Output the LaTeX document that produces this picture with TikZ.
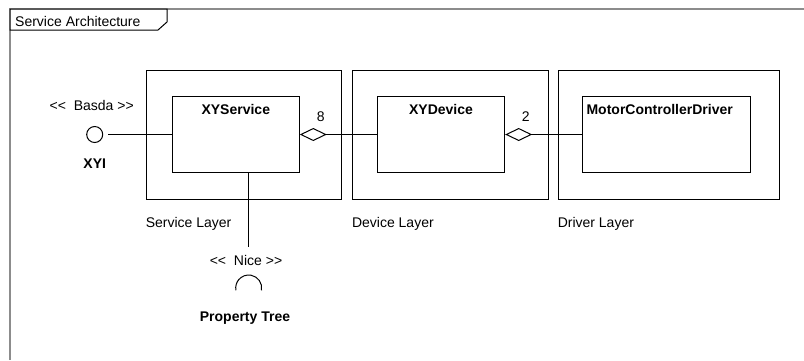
\documentclass[tikz,border=0pt]{standalone}
\usepackage{fontspec}
\setmainfont{Liberation Sans}
\usetikzlibrary{arrows.meta,positioning}

\begin{document}
\begin{tikzpicture}[
  x=1pt, y=-1pt,
  every node/.style={font=\fontsize{14pt}{17pt}\selectfont},
  frame/.style={draw=black!45, line width=1.5pt},
  tab/.style={draw=black, line width=1pt, fill=white},
  layer/.style={rectangle, draw=black, line width=1pt, minimum height=129pt, inner sep=0pt},
  cls/.style={rectangle, draw=black, line width=1pt, minimum height=76pt, inner sep=0pt},
  clsname/.style={inner sep=0pt, font=\fontsize{14pt}{17pt}\selectfont\bfseries},
  txt/.style={inner sep=0pt},
  iface/.style={circle, draw=black, line width=1pt, minimum size=16pt, inner sep=0pt},
  conn/.style={line width=1pt},
  aggr/.style={conn, {Diamond[open,length=27pt,width=13pt]}-}
]
\useasboundingbox (0,0) rectangle (804,360);

% Frame
\draw[frame] (10,360) -- (10,9) -- (804,9);
\draw[tab] (10,9) -- (167,9) -- (167,22) -- (158,30) -- (10,30) -- cycle;
\node (title) [txt, anchor=base west] at (15,26) {Service Architecture};

% Layers
\node (svclayer) [layer, minimum width=195.7pt] at (243.9,134.5) {};
\node (devlayer) [layer, minimum width=195.7pt, right=9.6pt of svclayer] {};
\node (drvlayer) [layer, minimum width=221.3pt, right=9pt of devlayer] {};
\node (svclabel) [txt, below right=17.5pt and 0pt of svclayer.south west] {Service Layer};
\node (devlabel) [txt, below right=17.5pt and 0pt of devlayer.south west] {Device Layer};
\node (drvlabel) [txt, below right=17.5pt and 0pt of drvlayer.south west] {Driver Layer};

% Classes
\node (xyservice) [cls, minimum width=127pt] at (235.8,134.5) {};
\node (xydevice) [cls, minimum width=127.4pt] at (441,134.5) {};
\node (mcdriver) [cls, minimum width=168pt] at (666.7,134.5) {};
\node (xyservicename) [clsname, below=8pt of xyservice.north] {XYService};
\node (xydevicename) [clsname, below=8pt of xydevice.north] {XYDevice};
\node (mcdrivername) [clsname, below=8pt of mcdriver.north, xshift=-7pt] {MotorControllerDriver};

% Provided interface
\node (xyi) [iface] at (94.7,134.5) {};
\node (basda) [txt, above=15pt of xyi, xshift=-3pt] {<{}<\ \ Basda >{}>};
\node (xyiname) [clsname, below=16pt of xyi] {XYI};

% Required interface
\coordinate (socket) at (248.7,288);
\node (nice) [txt, above=22pt of socket, xshift=-2.7pt] {<{}<\ \ Nice >{}>};
\node (proptree) [clsname, below=23.5pt of socket, xshift=-3.7pt] {Property Tree};
\draw[conn] ([shift={(-10:13pt)}]socket) arc[start angle=-10, end angle=190, radius=13pt];

% Connections
\draw[conn, shorten <=5pt] (xyi) -- (xyservice);
\draw[aggr] (xyservice) -- (xydevice);
\draw[aggr] (xydevice) -- (mcdriver);
\draw[conn] (xyservice.south -| socket) -- ([yshift=8pt]nice.north -| socket);
\node (mult8) [txt] at (320.7,116.7) {8};
\node (mult2) [txt] at (525.7,117) {2};

\end{tikzpicture}
\end{document}
